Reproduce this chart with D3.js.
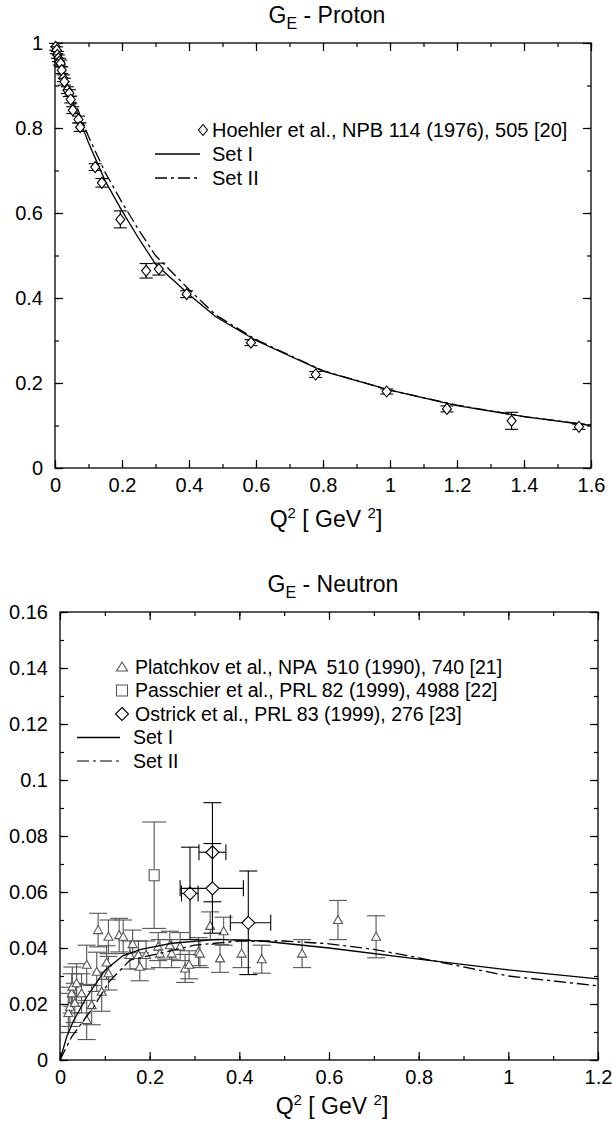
<!DOCTYPE html>
<html>
<head>
<meta charset="utf-8">
<script src="https://cdn.jsdelivr.net/npm/d3@7"></script>
<style>
body { margin: 0; background: #fff; }
svg text { font-family: "Liberation Sans", Arial, sans-serif; fill: #000; }
</style>
</head>
<body>
<div id="chart"></div>
<script>
// ---- proton, Hoehler et al.
const protonQ2  = [0.002, 0.005, 0.007, 0.010, 0.013, 0.017, 0.020, 0.025, 0.028, 0.037, 0.043, 0.047, 0.053, 0.070, 0.075,
                   0.12, 0.14, 0.195, 0.272, 0.31, 0.393, 0.585, 0.778, 0.99, 1.17, 1.363, 1.564];
const protonGE  = [0.991, 0.983, 0.972, 0.964, 0.956, 0.952, 0.936, 0.917, 0.909, 0.889, 0.882, 0.867, 0.842, 0.820, 0.802,
                   0.708, 0.671, 0.585, 0.464, 0.468, 0.409, 0.295, 0.220, 0.180, 0.139, 0.111, 0.097];
const protonErr = [0.008, 0.008, 0.008, 0.008, 0.008, 0.008, 0.008, 0.008, 0.008, 0.008, 0.008, 0.008, 0.008, 0.008, 0.010,
                   0.008, 0.010, 0.020, 0.017, 0.014, 0.008, 0.007, 0.007, 0.006, 0.007, 0.020, 0.006];

// model curves, proton
const protonSet1Q2 = [0, 0.02, 0.05, 0.1, 0.15, 0.2, 0.25, 0.3, 0.4, 0.48, 0.6, 0.8, 1.0, 1.2, 1.4, 1.6];
const protonSet1   = [1, 0.945, 0.87, 0.765, 0.675, 0.605, 0.54, 0.48, 0.408, 0.356, 0.30, 0.228, 0.183, 0.147, 0.121, 0.100];
const protonSet2Q2 = [0, 0.02, 0.05, 0.1, 0.15, 0.2, 0.25, 0.3, 0.4, 0.48, 0.6, 0.8, 1.0, 1.2, 1.4, 1.6];
const protonSet2   = [1, 0.95, 0.88, 0.78, 0.695, 0.625, 0.56, 0.50, 0.42, 0.36, 0.302, 0.229, 0.183, 0.148, 0.121, 0.101];

// ---- neutron, Platchkov et al.
const platchkovQ2  = [0.0186, 0.022, 0.026, 0.0275, 0.033, 0.037, 0.048, 0.0595, 0.0595, 0.0707, 0.082, 0.085, 0.093, 0.104,
                      0.108, 0.108, 0.132, 0.141, 0.156, 0.162, 0.175, 0.178, 0.192, 0.219, 0.223, 0.245, 0.249, 0.268,
                      0.279, 0.288, 0.309, 0.312, 0.335, 0.357, 0.365, 0.405, 0.45, 0.54, 0.62, 0.705];
const platchkovGE  = [0.0168, 0.019, 0.0238, 0.0262, 0.0204, 0.0274, 0.0238, 0.034, 0.0143, 0.0196, 0.0315, 0.0464, 0.0244, 0.0348,
                      0.044, 0.031, 0.0446, 0.044, 0.0375, 0.0414, 0.0375, 0.0333, 0.0375, 0.0405, 0.038, 0.041, 0.038, 0.0405,
                      0.0327, 0.034, 0.0387, 0.038, 0.0479, 0.0363, 0.046, 0.038, 0.036, 0.038, 0.050, 0.044];
const platchkovErr = [0.007, 0.007, 0.007, 0.007, 0.007, 0.007, 0.007, 0.007, 0.007, 0.007, 0.007, 0.006, 0.007, 0.006,
                      0.006, 0.006, 0.006, 0.006, 0.005, 0.005, 0.005, 0.005, 0.005, 0.005, 0.005, 0.005, 0.005, 0.005,
                      0.005, 0.005, 0.005, 0.005, 0.005, 0.005, 0.005, 0.005, 0.005, 0.005, 0.007, 0.0075];

// Passchier et al.
const passchierQ2  = [0.21];
const passchierGE  = [0.066];
const passchierErr = [0.019];

// Ostrick et al. (with horizontal bins)
const ostrickQ2   = [0.29, 0.34, 0.34, 0.42];
const ostrickGE   = [0.0595, 0.0742, 0.0613, 0.049];
const ostrickErr  = [0.0165, 0.0177, 0.016, 0.0185];
const ostrickQ2Lo = [0.271, 0.31, 0.268, 0.38];
const ostrickQ2Hi = [0.308, 0.37, 0.409, 0.47];

// model curves, neutron
const neutronSet1Q2 = [0, 0.015, 0.03, 0.06, 0.1, 0.14, 0.18, 0.25, 0.35, 0.45, 0.6, 0.8, 1.0, 1.2];
const neutronSet1   = [0, 0.0083, 0.014, 0.0226, 0.032, 0.0372, 0.0395, 0.0417, 0.0431, 0.0425, 0.040, 0.036, 0.0322, 0.029];
const neutronSet2Q2 = [0, 0.026, 0.075, 0.11, 0.156, 0.22, 0.3, 0.4, 0.5, 0.6, 0.7, 0.8, 1.0, 1.2];
const neutronSet2   = [0, 0.0083, 0.019, 0.028, 0.0357, 0.038, 0.041, 0.0425, 0.0425, 0.0415, 0.0395, 0.0365, 0.030, 0.0265];

// ticks
const protonXTicks  = [0, 0.2, 0.4, 0.6, 0.8, 1, 1.2, 1.4, 1.6];
const protonYTicks  = [0, 0.2, 0.4, 0.6, 0.8, 1];
const neutronXTicks = [0, 0.2, 0.4, 0.6, 0.8, 1, 1.2];
const neutronYTicks = [0, 0.02, 0.04, 0.06, 0.08, 0.1, 0.12, 0.14, 0.16];

const dashDot = "12,4,3,4";
const grey = "#555";

const svg = d3.select("#chart").append("svg")
    .attr("width", 612)
    .attr("height", 1122);

function zip(xs, ys) { return xs.map((x, i) => ({x: x, y: ys[i]})); }

function diamond(rx, ry) {
    return `M0,${-ry}L${rx},0L0,${ry}L${-rx},0Z`;
}

class GEPanel {

    constructor(cfg) {
        this.cfg = cfg;
        this.initVis();
    }

    initVis() {
        let vis = this;
        let c = vis.cfg;

        vis.x = d3.scaleLinear().domain(c.xDomain).range([c.left, c.right]);
        vis.y = d3.scaleLinear().domain(c.yDomain).range([c.bottom, c.top]);

        vis.g = svg.append("g");

        // frame with inward ticks on every side
        vis.drawAxes();

        // title
        let t = vis.g.append("text")
            .attr("x", (c.left + c.right) / 2 + 4)
            .attr("y", c.top - 20)
            .attr("text-anchor", "middle")
            .style("font-size", "23px");
        t.append("tspan").text("G");
        t.append("tspan").attr("dy", 6).style("font-size", "16px").text("E");
        t.append("tspan").attr("dy", -6).text(" - " + c.title);

        // x axis title
        let q = vis.g.append("text")
            .attr("x", (c.left + c.right) / 2 + 3)
            .attr("y", c.bottom + c.xTitleGap)
            .attr("text-anchor", "middle")
            .style("font-size", "23px");
        q.append("tspan").text("Q");
        q.append("tspan").attr("dy", -9).style("font-size", "15px").text("2");
        q.append("tspan").attr("dy", 9).text(" [ GeV ");
        q.append("tspan").attr("dy", -9).style("font-size", "15px").text("2");
        q.append("tspan").attr("dy", 9).text("]");
    }

    drawAxes() {
        let vis = this;
        let c = vis.cfg;
        let gx = vis.g.append("g").attr("class", "axes");

        let xMinor = d3.range(c.xDomain[0], c.xDomain[1] + 1e-9, c.xMinor);
        let yMinor = d3.range(c.yDomain[0], c.yDomain[1] + 1e-9, c.yMinor);

        let bottomAxis = d3.axisBottom(vis.x).tickValues(c.xTicks).tickSize(-8).tickPadding(10)
            .tickFormat(d3.format("~g"));
        let topAxis = d3.axisTop(vis.x).tickValues(c.xTicks).tickSize(-8).tickFormat("");
        let leftAxis = d3.axisLeft(vis.y).tickValues(c.yTicks).tickSize(-8).tickPadding(12)
            .tickFormat(d3.format("~g"));
        let rightAxis = d3.axisRight(vis.y).tickValues(c.yTicks).tickSize(-8).tickFormat("");

        let minorX = d3.axisBottom(vis.x).tickValues(xMinor).tickSize(-4).tickFormat("");
        let minorXt = d3.axisTop(vis.x).tickValues(xMinor).tickSize(-4).tickFormat("");
        let minorY = d3.axisLeft(vis.y).tickValues(yMinor).tickSize(-4).tickFormat("");
        let minorYr = d3.axisRight(vis.y).tickValues(yMinor).tickSize(-4).tickFormat("");

        let place = [
            [bottomAxis, `translate(0,${c.bottom})`],
            [minorX, `translate(0,${c.bottom})`],
            [topAxis, `translate(0,${c.top})`],
            [minorXt, `translate(0,${c.top})`],
            [leftAxis, `translate(${c.left},0)`],
            [minorY, `translate(${c.left},0)`],
            [rightAxis, `translate(${c.right},0)`],
            [minorYr, `translate(${c.right},0)`]
        ];
        place.forEach(function(p) {
            let a = gx.append("g").attr("transform", p[1]).call(p[0]);
            a.select(".domain").remove();
            a.selectAll("line").attr("stroke", "#000").attr("stroke-width", 1.2);
            a.selectAll("text").style("font-size", "20px").attr("fill", "#000");
        });

        gx.append("rect")
            .attr("x", c.left).attr("y", c.top)
            .attr("width", c.right - c.left).attr("height", c.bottom - c.top)
            .attr("fill", "none").attr("stroke", "#000").attr("stroke-width", 1.3);
    }

    curve(xs, ys, dash) {
        let vis = this;
        let line = d3.line().x(d => vis.x(d.x)).y(d => vis.y(d.y));
        vis.g.append("path")
            .datum(zip(xs, ys))
            .attr("d", line)
            .attr("fill", "none")
            .attr("stroke", "#000")
            .attr("stroke-width", 1.3)
            .attr("stroke-dasharray", dash || null);
    }

    points(xs, ys, errs, sym, color, cap, hLo, hHi) {
        let vis = this;
        let grp = vis.g.append("g").attr("stroke", color).attr("fill", "none").attr("stroke-width", 1.1);
        xs.forEach(function(x, i) {
            let px = vis.x(x), py = vis.y(ys[i]);
            let y0 = vis.y(ys[i] - errs[i]), y1 = vis.y(ys[i] + errs[i]);
            grp.append("line").attr("x1", px).attr("x2", px).attr("y1", y0).attr("y2", y1);
            grp.append("line").attr("x1", px - cap).attr("x2", px + cap).attr("y1", y0).attr("y2", y0);
            grp.append("line").attr("x1", px - cap).attr("x2", px + cap).attr("y1", y1).attr("y2", y1);
            if (hLo) {
                let xl = vis.x(hLo[i]), xr = vis.x(hHi[i]);
                grp.append("line").attr("x1", xl).attr("x2", xr).attr("y1", py).attr("y2", py);
                grp.append("line").attr("x1", xl).attr("x2", xl).attr("y1", py - 8).attr("y2", py + 8);
                grp.append("line").attr("x1", xr).attr("x2", xr).attr("y1", py - 8).attr("y2", py + 8);
            }
            grp.append("path")
                .attr("transform", `translate(${px},${py})`)
                .attr("d", sym)
                .attr("fill", "#fff");
        });
    }

    legend(rows, y0, step, size) {
        let vis = this;
        let lg = vis.g.append("g");
        rows.forEach(function(r, i) {
            let yy = y0 + i * step;
            if (r.sym) {
                lg.append("path")
                    .attr("transform", `translate(${r.sx},${yy})`)
                    .attr("d", r.sym)
                    .attr("fill", "none")
                    .attr("stroke", r.color)
                    .attr("stroke-width", 1.1);
            } else {
                lg.append("line")
                    .attr("x1", r.lx0).attr("x2", r.lx1)
                    .attr("y1", yy).attr("y2", yy)
                    .attr("stroke", r.color)
                    .attr("stroke-width", 1.3)
                    .attr("stroke-dasharray", r.dash || null);
            }
            lg.append("text")
                .attr("x", r.tx)
                .attr("y", yy)
                .attr("dy", "0.35em")
                .attr("xml:space", "preserve")
                .style("white-space", "pre")
                .style("font-size", size + "px")
                .text(r.label);
        });
    }
}

// ---- top panel
let proton = new GEPanel({
    title: "Proton",
    left: 55, right: 591, top: 43, bottom: 468,
    xDomain: [0, 1.6], yDomain: [0, 1],
    xTicks: protonXTicks, yTicks: protonYTicks,
    xMinor: 0.1, yMinor: 0.1, xTitleGap: 59
});
proton.curve(protonSet1Q2, protonSet1);
proton.curve(protonSet2Q2, protonSet2, dashDot);
proton.points(protonQ2, protonGE, protonErr, diamond(4.5, 5.5), "#000", 6.5);
proton.legend([
    {sym: diamond(4.5, 5.5), sx: 203, color: "#000", tx: 212, label: "Hoehler et al., NPB 114 (1976), 505 [20]"},
    {lx0: 155, lx1: 200, color: "#000", tx: 212, label: "Set I"},
    {lx0: 155, lx1: 200, color: "#000", dash: dashDot, tx: 212, label: "Set II"}
], 130, 24, 20);

// ---- bottom panel
let neutron = new GEPanel({
    title: "Neutron",
    left: 60, right: 598, top: 612, bottom: 1060,
    xDomain: [0, 1.2], yDomain: [0, 0.16],
    xTicks: neutronXTicks, yTicks: neutronYTicks,
    xMinor: 0.1, yMinor: 0.01, xTitleGap: 54
});
neutron.points(platchkovQ2, platchkovGE, platchkovErr, diamond(0, 0), grey, 9);
// triangles drawn on top of their bars
neutron.g.append("g").selectAll("path")
    .data(zip(platchkovQ2, platchkovGE))
    .join("path")
    .attr("transform", d => `translate(${neutron.x(d.x)},${neutron.y(d.y)})`)
    .attr("d", "M0,-4.5L4.5,3.5L-4.5,3.5Z")
    .attr("fill", "#fff")
    .attr("stroke", grey)
    .attr("stroke-width", 1.1);
neutron.points(passchierQ2, passchierGE, passchierErr, "M-5,-5.5H5V5.5H-5Z", grey, 12);
neutron.points(ostrickQ2, ostrickGE, ostrickErr, diamond(6.5, 6.5), "#000", 9, ostrickQ2Lo, ostrickQ2Hi);
neutron.curve(neutronSet1Q2, neutronSet1);
neutron.curve(neutronSet2Q2, neutronSet2, dashDot);
neutron.legend([
    {sym: "M0,-5L5.5,4L-5.5,4Z", sx: 122, color: grey, tx: 135, label: "Platchkov et al., NPA  510 (1990), 740 [21]"},
    {sym: "M-5.5,-5.5H5.5V5.5H-5.5Z", sx: 122, color: grey, tx: 135, label: "Passchier et al., PRL 82 (1999), 4988 [22]"},
    {sym: diamond(6.5, 6.5), sx: 122, color: "#000", tx: 135, label: "Ostrick et al., PRL 83 (1999), 276 [23]"},
    {lx0: 77, lx1: 120, color: "#000", tx: 133, label: "Set I"},
    {lx0: 77, lx1: 120, color: grey, dash: dashDot, tx: 133, label: "Set II"}
], 667, 23.5, 19.5);
</script>
</body>
</html>
